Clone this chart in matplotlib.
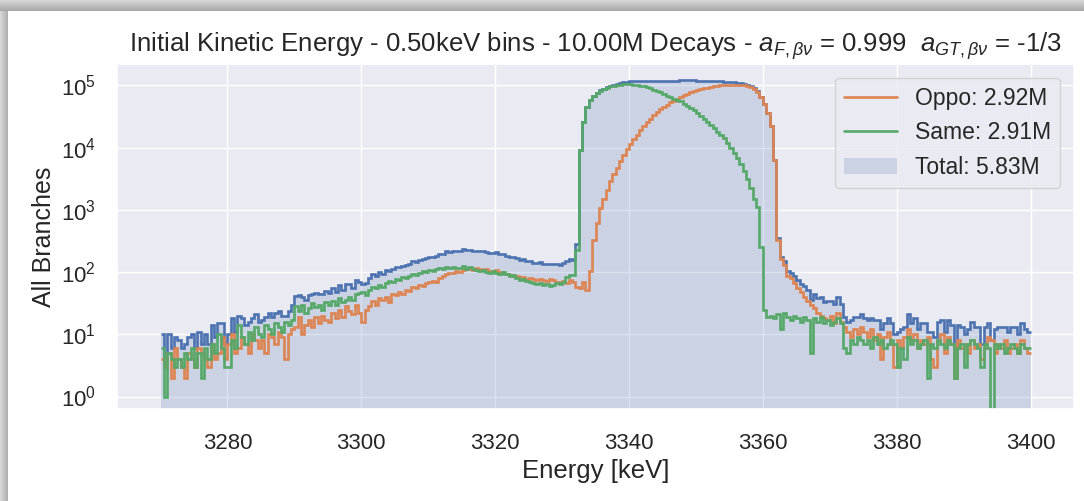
import numpy as np
import matplotlib.pyplot as plt
import seaborn as sns
from matplotlib.patches import Rectangle

# histogram edges: 3270-3400 keV in 0.5 keV bins
e_lo, e_hi, bin_w = 3270.0, 3400.0, 0.5

# counts per bin for the opposite-direction branch, 10 bins (5 keV) per row
oppo = [
    4, 3, 5, 2, 6, 4, 3, 2, 5, 4,
    3, 6, 5, 4, 3, 7, 4, 5, 9, 4,
    7, 10, 5, 6, 9, 7, 5, 10, 8, 6,
    8, 5, 10, 9, 7, 11, 9, 4, 10, 12,
    13, 19, 10, 14, 17, 13, 19, 15, 20, 17,
    16, 22, 18, 25, 19, 28, 24, 21, 30, 22,
    16, 25, 28, 34, 30, 38, 35, 40, 33, 45,
    42, 48, 44, 52, 50, 58, 55, 62, 60, 66,
    68, 72, 70, 80, 85, 92, 95, 98, 105, 100,
    108, 112, 110, 106, 115, 112, 108, 110, 105, 102,
    108, 100, 98, 92, 88, 85, 86, 82, 84, 78,
    80, 76, 74, 78, 75, 72, 76, 74, 70, 66,
    72, 66, 74, 70, 57, 55, 70, 51, 105, 330,
    620, 1050, 1500, 2100, 2900, 3700, 4700, 6000, 7600, 9500,
    11500, 13500, 16000, 19000, 22000, 25500, 29000, 33000, 37000, 41000,
    45000, 49000, 53000, 57000, 61000, 65000, 69000, 73000, 77000, 80000,
    83000, 86000, 89000, 92000, 94000, 96000, 98000, 100000, 101000, 102000,
    103000, 103000, 103000, 102000, 101000, 99000, 95000, 88000, 79000, 65000,
    50000, 36000, 22000, 6200, 330, 160, 130, 85, 80, 66,
    56, 48, 40, 34, 30, 26, 22, 20, 18, 17,
    20, 15, 22, 16, 13, 11, 9, 12, 10, 13,
    11, 9, 12, 8, 10, 4, 9, 11, 7, 3,
    8, 6, 9, 12, 8, 10, 6, 8, 7, 9,
    4, 3, 8, 10, 5, 9, 7, 2, 8, 6,
    7, 5, 8, 6, 7, 4, 6, 9, 8, 5,
    7, 6, 8, 5, 6, 7, 5, 8, 6, 5,
]

# counts per bin for the same-direction branch
same = [
    6, 1, 5, 4, 3, 4, 3, 5, 4, 6,
    3, 5, 2, 6, 4, 7, 5, 10, 6, 3,
    3, 8, 6, 14, 9, 7, 11, 8, 13, 10,
    9, 14, 12, 10, 15, 13, 11, 16, 14, 17,
    28, 24, 30, 22, 26, 32, 27, 30, 25, 33,
    30, 34, 29, 38, 33, 36, 40, 35, 44, 46,
    48, 42, 52, 58, 55, 62, 58, 66, 72, 68,
    78, 74, 82, 80, 86, 92, 88, 96, 104, 100,
    108, 102, 112, 118, 110, 122, 116, 120, 114, 118,
    124, 112, 120, 110, 106, 104, 108, 100, 96, 102,
    98, 94, 100, 92, 86, 88, 80, 74, 76, 72,
    70, 66, 64, 66, 62, 64, 60, 62, 66, 64,
    70, 82, 90, 88, 230, 9000, 26000, 45000, 58000, 68000,
    75000, 82000, 87000, 92000, 96000, 99000, 101000, 103000, 104000, 104000,
    104000, 103000, 101000, 99000, 96000, 93000, 89000, 85000, 81000, 77000,
    72000, 68000, 64000, 60000, 58000, 55000, 51000, 47000, 43000, 39500,
    36000, 32500, 29000, 26000, 23000, 20500, 18000, 15800, 14000, 12000,
    10000, 8300, 6800, 5400, 4200, 3100, 2200, 1500, 1100, 250,
    25, 19, 20, 18, 21, 12, 22, 19, 17, 20,
    18, 16, 19, 17, 5, 18, 16, 19, 15, 17,
    14, 16, 18, 15, 6, 5, 8, 7, 9, 8,
    7, 8, 6, 9, 7, 8, 6, 7, 8, 7,
    3, 6, 4, 9, 7, 8, 6, 7, 8, 2,
    7, 6, 8, 7, 6, 8, 7, 2, 6, 7,
    3, 7, 8, 7, 6, 3, 7, 6, 0, 7,
    6, 7, 5, 6, 7, 6, 5, 7, 6, 6,
]

oppo = np.array(oppo)
same = np.array(same)
total = oppo + same
edges = np.linspace(e_lo, e_hi, len(oppo) + 1)

sns.set_theme(style='darkgrid')
plt.rcParams['font.family'] = ['Liberation Sans', 'DejaVu Sans']
plt.rcParams['mathtext.fontset'] = 'custom'
plt.rcParams['mathtext.rm'] = 'Liberation Sans'
plt.rcParams['mathtext.it'] = 'Liberation Sans:italic'
plt.rcParams['mathtext.bf'] = 'Liberation Sans:bold'

fig = plt.figure(figsize=(10.84, 5.01), dpi=100)
ax = fig.add_axes([117 / 1084, 1 - 409 / 501, (1074 - 117) / 1084, (409 - 64) / 501])

# filled total underneath, then the step outlines
ax.stairs(total, edges, fill=True, color='C0', alpha=0.2, label='Total: %.2fM' % (total.sum() / 1e6))
ax.stairs(total, edges, color='C0', lw=1.9, baseline=None)
ax.stairs(oppo, edges, color='C1', lw=1.9, baseline=None, label='Oppo: %.2fM' % (oppo.sum() / 1e6))
ax.stairs(same, edges, color='C2', lw=1.9, baseline=None, label='Same: %.2fM' % (same.sum() / 1e6))

ax.set_yscale('log')
ax.set_ylim(0.63, 2.2e5)
pad = 0.05 * (e_hi - e_lo)
ax.set_xlim(e_lo - pad, e_hi + pad)
ax.set_xticks([3280, 3300, 3320, 3340, 3360, 3380, 3400])
ax.tick_params(labelsize=16)
ax.tick_params(axis='x', pad=11)
ax.tick_params(axis='y', pad=9)

ax.set_title(r'Initial Kinetic Energy - 0.50keV bins - 10.00M Decays - $a_{F,\beta\nu}$ = 0.999  $a_{GT,\beta\nu}$ = -1/3',
             fontsize=18.5, pad=9)
ax.set_xlabel('Energy [keV]', fontsize=18.5)
ax.set_ylabel('All Branches', fontsize=18)

handles, labels = ax.get_legend_handles_labels()
order = [1, 2, 0]
leg = ax.legend([handles[i] for i in order], [labels[i] for i in order],
                loc='upper right', fontsize=16.5, handlelength=2.3, borderaxespad=0.6)
for line in leg.get_lines():
    line.set_linewidth(1.9)

# grey shadow strips along the top and left edges
W, H = 1084, 501
for i in range(11):
    g = 0.84 - 0.018 * i
    fig.add_artist(Rectangle((0, 1 - (i + 1) / H), 1, 1 / H, transform=fig.transFigure,
                             facecolor=str(g), edgecolor='none'))
for i in range(8):
    g = 0.84 - 0.022 * i
    fig.add_artist(Rectangle((i / W, 0), 1 / W, 1 - 11 / H, transform=fig.transFigure,
                             facecolor=str(g), edgecolor='none'))

fig.savefig('out.png', dpi=100)
